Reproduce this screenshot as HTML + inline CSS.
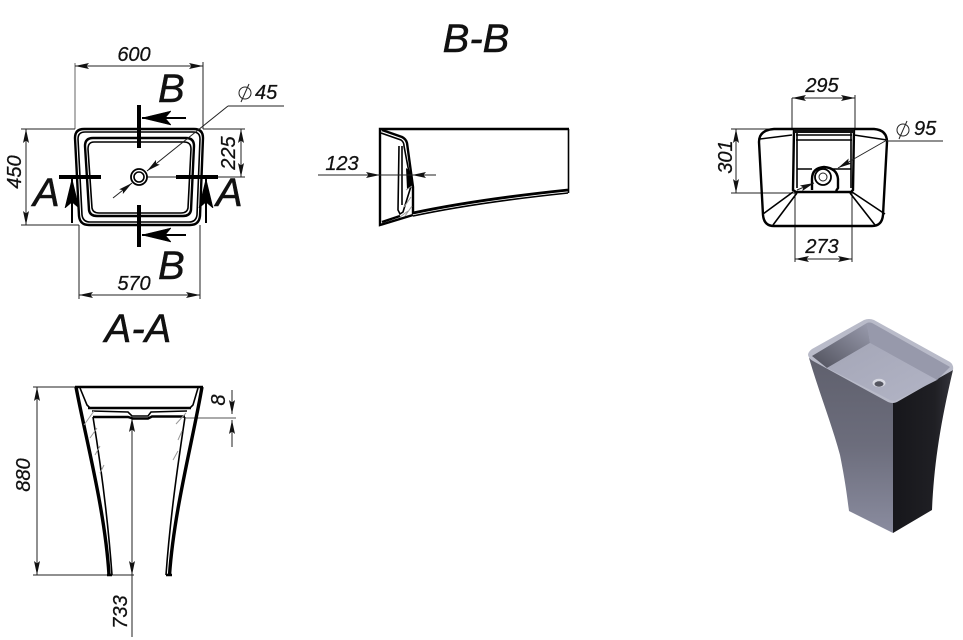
<!DOCTYPE html>
<html><head><meta charset="utf-8"><style>
html,body{margin:0;padding:0;background:#fff;width:963px;height:640px;overflow:hidden}
svg{display:block}
text{font-family:"Liberation Sans",sans-serif;font-style:italic;fill:#111;stroke:#111}
.d{font-size:20px;stroke-width:.25}
.t{font-size:40px;stroke-width:.5}
.l{stroke:#222;stroke-width:1;fill:none}
.g{stroke:#999;stroke-width:1.5;fill:none}
.o{stroke:#000;fill:none;stroke-width:1.6}
.h{stroke:#000;fill:none;stroke-width:2.4}
.b{stroke:#000;stroke-width:4;fill:none}
.hat{stroke:#999;stroke-width:1;fill:none}
</style></head><body>
<svg width="963" height="640" viewBox="0 0 963 640" xmlns="http://www.w3.org/2000/svg">
<defs>
<linearGradient id="lf2" x1="0" y1="0" x2="0" y2="1"><stop offset="0" stop-color="#5f606d"/><stop offset="0.5" stop-color="#6c6d7c"/><stop offset="1" stop-color="#8a8c9f"/></linearGradient>
<linearGradient id="rf" x1="0" y1="0" x2="1" y2="0"><stop offset="0" stop-color="#17171b"/><stop offset="0.7" stop-color="#1f1f24"/><stop offset="1" stop-color="#34343b"/></linearGradient>
<linearGradient id="fl" x1="0" y1="0" x2="1" y2="1"><stop offset="0" stop-color="#a4a6b7"/><stop offset="1" stop-color="#b2b4c5"/></linearGradient>
<linearGradient id="wl" x1="0" y1="1" x2="1" y2="0"><stop offset="0" stop-color="#4f505b"/><stop offset="1" stop-color="#9a9cae"/></linearGradient>
<marker id="a" markerWidth="15" markerHeight="8" refX="14" refY="4" orient="auto-start-reverse" markerUnits="userSpaceOnUse"><path d="M0 1L14 4L0 7L2.500 4Z" fill="#111"/></marker>
<marker id="big" markerWidth="30" markerHeight="16" refX="29" refY="8" orient="auto" markerUnits="userSpaceOnUse"><path d="M0 1L29 8L0 15L6 8Z" fill="#000" stroke="#000" stroke-width=".6"/></marker>
</defs>

<!-- Titles -->
<text class="t" x="476" y="52" text-anchor="middle">B-B</text>
<text class="t" x="138" y="342" text-anchor="middle">A-A</text>

<!-- TOP VIEW -->
<path class="g" d="M75 63V129"/>
<path class="l" d="M203 62V129M79 225V299M200 225V299M21 129H75M21 225H79M203 129H245M139 177H245"/>
<path class="l" d="M75 66H203" marker-start="url(#a)" marker-end="url(#a)"/>
<path class="l" d="M79 295H200" marker-start="url(#a)" marker-end="url(#a)"/>
<path class="l" d="M26 129V225" marker-start="url(#a)" marker-end="url(#a)"/>
<path class="l" d="M241 129V177" marker-start="url(#a)" marker-end="url(#a)"/>
<path d="M84 129H194Q203 129 203 138L200 216Q199 225 190 225H89Q80 225 79 216L75 138Q75 129 84 129Z" class="h"/>
<path d="M85 132H193Q200 132 200 139L197 215Q196 222 189 222H90Q83 222 82 215L78 139Q78 132 85 132Z" class="o"/>
<path d="M93 138H186Q194 138 194 146L191 210Q190 216 183 216H97Q90 216 89 210L85 146Q85 138 93 138Z" class="h"/>
<path d="M94 142H184Q191 142 191 149L188 208Q187 213 181 213H99Q93 213 92 208L88 149Q88 142 94 142Z" class="o"/>
<circle cx="139" cy="177" r="8" fill="#fff" stroke="#000" stroke-width="1.8"/>
<circle cx="139" cy="177" r="5" fill="#fff" stroke="#000" stroke-width="1.6"/>
<path class="l" d="M113 198L132 183" marker-end="url(#a)"/>
<path class="l" d="M228 106L147 171" marker-end="url(#a)"/>
<path class="l" d="M228 106H284"/>
<path class="b" d="M139 105V148M139 205V247M59 177H101M176 177H218"/>
<path stroke="#000" stroke-width="2" fill="none" d="M186 118H142" marker-end="url(#big)"/>
<path stroke="#000" stroke-width="2" fill="none" d="M186 235H142" marker-end="url(#big)"/>
<path stroke="#000" stroke-width="2" fill="none" d="M72 223V179" marker-end="url(#big)"/>
<path stroke="#000" stroke-width="2" fill="none" d="M206 223V179" marker-end="url(#big)"/>
<text class="t" x="158" y="102">B</text>
<text class="t" x="158" y="279">B</text>
<text class="t" x="33" y="206">A</text>
<text class="t" x="216" y="206">A</text>
<text class="d" x="134" y="61" text-anchor="middle">600</text>
<text class="d" x="134" y="290" text-anchor="middle">570</text>
<text class="d" transform="translate(21 172) rotate(-90)" text-anchor="middle">450</text>
<text class="d" transform="translate(235 153) rotate(-90)" text-anchor="middle">225</text>
<text class="d" x="255" y="99">45</text>
<circle cx="245" cy="93" r="6" fill="none" stroke="#222"/>
<path class="l" d="M241 102L249 84"/>

<!-- SECTION B-B -->
<path class="h" d="M569 129H380V225L413 215"/>
<path class="o" d="M568.500 129V193"/>
<path stroke="#000" stroke-width="2.800" fill="none" d="M568 190C520 195 460 203 413 213"/>
<path class="o" d="M568 193C520 198 460 206 413 216"/>
<path class="h" d="M382 130L402 137Q406 139 407 143L413 187V214"/>
<path class="o" d="M381 133L401 140Q404 142 404 146L411 183"/>
<path class="o" d="M399 146L398 210L400 214L403 212L412 183"/>
<path class="o" d="M402 146V205"/>
<path d="M406 168L411 172L412 186L407 189Z" fill="#000"/>
<path class="hat" d="M404 207L411 197M405 216L412 206M400 217L408 211M406 190L412 186"/>
<path class="h" d="M382 222L400 216"/>
<path class="l" d="M318 175H380" marker-end="url(#a)"/>
<path class="l" d="M380 175H436"/>
<path d="M436 175H412" class="l" marker-end="url(#a)"/>
<text class="d" x="342" y="170" text-anchor="middle">123</text>

<!-- BOTTOM VIEW -->
<path class="l" d="M792 98V129M855 95V129M795 193V262M852 193V262M731 129H792M731 193H795"/>
<path class="l" d="M792 98H855" marker-start="url(#a)" marker-end="url(#a)"/>
<path class="l" d="M795 259H852" marker-start="url(#a)" marker-end="url(#a)"/>
<path class="l" d="M736 129V193" marker-start="url(#a)" marker-end="url(#a)"/>
<path class="h" d="M774 129H874Q887 130 887 142L883 215Q882 226 872 226H774Q764 226 763 215L759 142Q759 130 774 129Z"/>
<path class="o" d="M760 139L792 135M887 140L854 135"/>
<path class="h" d="M794 129L793 190L796 192H851L853 190L854 129"/>
<path class="o" d="M797 131V188M851 131V188M796 135H852M796 140H852"/>
<path d="M794 129H854V133H794Z" fill="#111"/>
<path class="o" d="M797 169H812M833 169H851"/>
<path class="h" d="M812 190V179Q812 168 824 167Q837 168 838 179V188L836 191"/>
<circle cx="823" cy="177" r="8" fill="#fff" stroke="#000" stroke-width="1.800"/>
<circle cx="823" cy="177" r="4" fill="#fff" stroke="#222" stroke-width="1"/>
<path class="o" d="M793 192L763 214M797 193L773 225M852 192L885 214M850 193L875 225"/>
<path class="l" d="M887 140L838 168" marker-end="url(#a)"/>
<path class="l" d="M887 141H943"/>
<path class="l" d="M797 190L814 183" marker-end="url(#a)"/>
<text class="d" x="822" y="92" text-anchor="middle">295</text>
<text class="d" x="822" y="253" text-anchor="middle">273</text>
<text class="d" transform="translate(732 157) rotate(-90)" text-anchor="middle">301</text>
<text class="d" x="914" y="135">95</text>
<circle cx="903" cy="130" r="6" fill="none" stroke="#222"/>
<path class="l" d="M899 139L907 121"/>

<!-- SECTION A-A -->
<path class="l" d="M33 387H75M33 575H134"/>
<path class="l" d="M37 387V575" marker-start="url(#a)" marker-end="url(#a)"/>
<path class="l" d="M132 418V575" marker-start="url(#a)" marker-end="url(#a)"/>
<path class="l" d="M132 575V637"/>
<path class="l" d="M232 390V414" marker-end="url(#a)"/>
<path class="l" d="M232 447V420" marker-end="url(#a)"/>
<path stroke="#aaa" stroke-width="2" fill="none" d="M186 418H236"/>
<path class="h" d="M75 387H203"/>
<path stroke="#000" stroke-width="3.400" fill="none" d="M76 387C86 440 105 510 109 575"/>
<path stroke="#000" stroke-width="3.400" fill="none" d="M202 387C193 440 174 510 169.500 575"/>
<path class="o" d="M93 417C100 460 108 520 112 575"/>
<path class="o" d="M185 417C177 470 170 520 166 575"/>
<path class="h" d="M107 575H112M166 575H172"/>
<path class="o" d="M80 388L87 405L90 408H190L193 405L198 388"/>
<path class="h" d="M88 408H191"/>
<path class="o" d="M92 411L128 412L132 416H148L151 412L187 411"/>
<path class="h" d="M93 417H128L133 418.500H148L152 416.500H185"/>
<path class="hat" d="M84 425L94 411M90 438L97 428M95 455L100 446M100 473L104 465M176 424L186 413M178 440L182 431M173 460L178 451"/>
<text class="d" transform="translate(30 475) rotate(-90)" text-anchor="middle">880</text>
<text class="d" transform="translate(127 612) rotate(-90)" text-anchor="middle">733</text>
<text class="d" transform="translate(225 400) rotate(-90)" text-anchor="middle">8</text>

<!-- 3D VIEW -->
<path d="M809 358C820 395 832 425 840 455C845 480 847 495 849 511L893 533V403Z" fill="url(#lf2)"/>
<path d="M893 403V533L932 510C934 465 940 425 953 370Z" fill="url(#rf)"/>
<path d="M808 355Q808 352 812 349L864 320Q869 318 874 320L950 362Q954 365 953 370L897 402Q893 404 888 402L813 361Q809 359 808 355Z" fill="#b9bbc9"/>
<path d="M812 356L867 323Q869 322 872 323L950 367L895 400Q893 401 890 400Z" fill="#a8aabb"/>
<path d="M812 356L867 323L870 343L827 368Z" fill="url(#wl)"/>
<path d="M870 343L867 323Q869 322 872 323L950 367L937 380Z" fill="#9799ab"/>
<path d="M827 368L870 343L937 380L895 401L890 400Z" fill="url(#fl)"/>
<ellipse cx="879" cy="383" rx="6.500" ry="4.200" fill="#d8d9e2"/>
<ellipse cx="879" cy="384" rx="4.500" ry="2.700" fill="#555660"/>
</svg>
</body></html>
